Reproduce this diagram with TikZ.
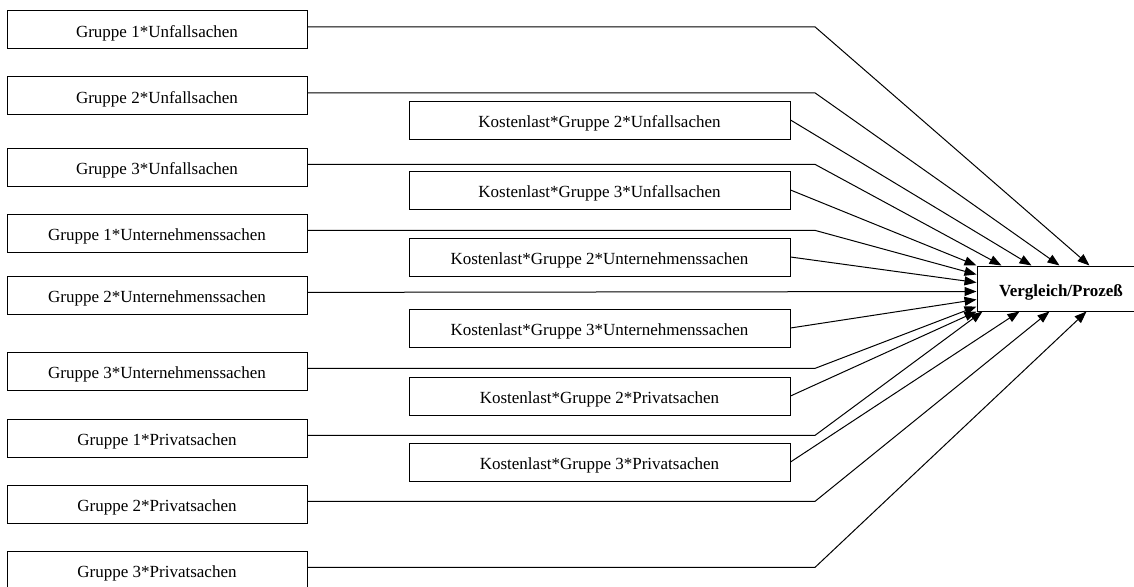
\documentclass[tikz,border=0pt]{standalone}
\usepackage{fontspec}
\setmainfont{Liberation Serif}
\usetikzlibrary{arrows.meta}
\tikzset{
  box/.style={
    draw=black,
    line width=1pt,
    inner sep=0pt,
    minimum height=38pt,
    text height=15.5pt,
    text depth=0pt,
    font=\fontsize{17pt}{20pt}\selectfont
  },
  box-group/.style={box, minimum width=300pt},
  box-cost/.style={box, minimum width=381pt},
  box-result/.style={box, minimum width=168pt, minimum height=45pt,
    font=\fontsize{17pt}{20pt}\selectfont\bfseries},
  link/.style={line width=1pt, -{Triangle[length=12pt,width=9pt]}}
}

\begin{document}
\begin{tikzpicture}[x=1pt, y=-1pt]
  \useasboundingbox (0,0) rectangle (1134,586);
  \clip (0,0) rectangle (1134,586);
  % Groups
  \node[box-group] (g1u) at (157,29.5) {Gruppe 1*Unfallsachen};
  \node[box-group] (g2u) at (157,95.5) {Gruppe 2*Unfallsachen};
  \node[box-group] (g3u) at (157,167) {Gruppe 3*Unfallsachen};
  \node[box-group] (g1f) at (157,233) {Gruppe 1*Unternehmenssachen};
  \node[box-group] (g2f) at (157,295) {Gruppe 2*Unternehmenssachen};
  \node[box-group] (g3f) at (157,371) {Gruppe 3*Unternehmenssachen};
  \node[box-group] (g1p) at (157,438) {Gruppe 1*Privatsachen};
  \node[box-group] (g2p) at (157,504) {Gruppe 2*Privatsachen};
  \node[box-group] (g3p) at (157,570) {Gruppe 3*Privatsachen};
  % Cost interactions
  \node[box-cost] (k2u) at (599.5,120) {Kostenlast*Gruppe 2*Unfallsachen};
  \node[box-cost] (k3u) at (599.5,190) {Kostenlast*Gruppe 3*Unfallsachen};
  \node[box-cost] (k2f) at (599.5,257) {Kostenlast*Gruppe 2*Unternehmenssachen};
  \node[box-cost] (k3f) at (599.5,328) {Kostenlast*Gruppe 3*Unternehmenssachen};
  \node[box-cost] (k2p) at (599.5,396) {Kostenlast*Gruppe 2*Privatsachen};
  \node[box-cost] (k3p) at (599.5,462) {Kostenlast*Gruppe 3*Privatsachen};
  % Outcome
  \node[box-result] (out) at (1061,288.5) {Vergleich/Prozeß};
  \coordinate (bend) at (815,0);
  % Arrows onto top edge
  \draw[link] (g1u.1) -- (g1u.1 -| bend) -- ([xshift=113pt]out.north west);
  \draw[link] (g2u.1) -- (g2u.1 -| bend) -- ([xshift=83pt]out.north west);
  \draw[link] (k2u.east) -- ([xshift=55pt]out.north west);
  \draw[link] (g3u.1) -- (g3u.1 -| bend) -- ([xshift=25pt]out.north west);
  \draw[link] (k3u.east) -- (out.north west);
  % Arrows onto left edge
  \draw[link] (g1f.1) -- (g1f.1 -| bend) -- ([yshift=-9pt]out.north west);
  \draw[link] (k2f.east) -- ([yshift=-17pt]out.north west);
  \draw[link] (g2f.1) -- ([yshift=-26pt]out.north west);
  \draw[link] (k3f.east) -- ([yshift=-34pt]out.north west);
  \draw[link] (g3f.1) -- (g3f.1 -| bend) -- ([yshift=-41pt]out.north west);
  % Arrows onto bottom edge
  \draw[link] (k2p.east) -- (out.south west);
  \draw[link] (g1p.1) -- (g1p.1 -| bend) -- ([xshift=6pt]out.south west);
  \draw[link] (k3p.east) -- ([xshift=43pt]out.south west);
  \draw[link] (g2p.1) -- (g2p.1 -| bend) -- ([xshift=73pt]out.south west);
  \draw[link] (g3p.1) -- (g3p.1 -| bend) -- ([xshift=110pt]out.south west);
\end{tikzpicture}
\end{document}
